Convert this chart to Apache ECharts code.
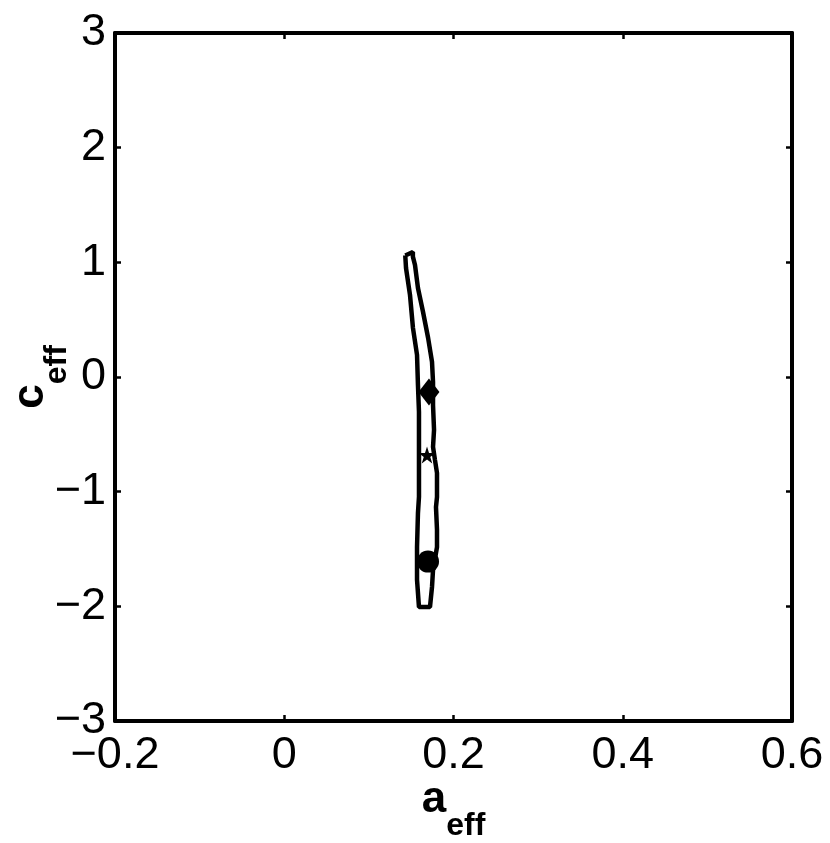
<!DOCTYPE html>
<html>
<head>
<meta charset="utf-8">
<script src="https://cdn.jsdelivr.net/npm/echarts@6/dist/echarts.min.js"></script>
<style>
  html, body { margin: 0; padding: 0; background: #fff; }
  #chart { width: 830px; height: 843px; }
</style>
</head>
<body>
<div id="chart"></div>
<script>
// axis ranges
const xTicks = [-0.2, 0, 0.2, 0.4, 0.6];
const yTicks = [-3, -2, -1, 0, 1, 2, 3];

// confidence contour, traced clockwise from the top-left corner
const contourA = [0.143, 0.152, 0.152, 0.1545, 0.158, 0.164, 0.170, 0.1746, 0.1758, 0.1758, 0.177, 0.1758, 0.1781, 0.1805, 0.1805, 0.1793, 0.1805, 0.1805, 0.1758, 0.1746, 0.1722, 0.1592, 0.1569, 0.1569, 0.158, 0.1592, 0.1592, 0.1592, 0.1592, 0.158, 0.1569, 0.1521, 0.1486, 0.1439, 0.143];
const contourC = [1.06, 1.09, 1.05, 0.977, 0.776, 0.567, 0.34, 0.131, -0.044, -0.244, -0.462, -0.61, -0.724, -0.837, -1.046, -1.134, -1.334, -1.483, -1.683, -1.831, -2.006, -2.006, -1.77, -1.483, -1.186, -1.046, -0.75, -0.532, -0.305, -0.07, 0.192, 0.427, 0.715, 0.95, 1.06];

// point markers
const diamondPt = [0.171, -0.13];
const starPt = [0.1687, -0.68];
const circlePt = [0.1699, -1.61];

const contour = contourA.map((a, i) => [a, contourC[i]]);

const starPath = 'path://M50,0 L61.8,35.5 L100,35.5 L69.1,57.3 L80.9,92.7 L50,70.7 L19.1,92.7 L30.9,57.3 L0,35.5 L38.2,35.5 Z';

const FONT = '"Liberation Sans", Arial, Helvetica, sans-serif';
const fmt = v => String(+v.toFixed(1)).replace('-', '\u2212');

var myChart = echarts.init(document.getElementById('chart'));

const baseAxis = {
  type: 'value',
  axisLine: { show: true, onZero: false, lineStyle: { color: '#000', width: 4 } },
  axisTick: { show: true, inside: true, length: 6, lineStyle: { color: '#000', width: 2.5 } },
  splitLine: { show: false },
};

const nameRich = {
  a: { fontSize: 44, fontWeight: 'bold', fontFamily: FONT, color: '#000', verticalAlign: 'bottom', padding: [0, 0, 20, 0] },
  s: { fontSize: 32, fontWeight: 'bold', fontFamily: FONT, color: '#000', verticalAlign: 'bottom' }
};

myChart.setOption({
  animation: false,
  backgroundColor: '#fff',
  grid: { left: 115, right: 38, top: 33, bottom: 122, containLabel: false, outerBoundsMode: 'none' },
  xAxis: [
    Object.assign({}, baseAxis, {
      position: 'bottom',
      min: xTicks[0], max: xTicks[xTicks.length - 1], interval: 0.2,
      axisLabel: { color: '#000', fontSize: 45, fontFamily: FONT, margin: 12, formatter: fmt, showMinLabel: true, showMaxLabel: true, hideOverlap: false },
      name: '{a|a}{s|eff}',
      nameLocation: 'middle',
      nameGap: 57,
      nameMoveOverlap: false,
      nameTextStyle: { rich: nameRich }
    }),
    Object.assign({}, baseAxis, {
      position: 'top',
      min: xTicks[0], max: xTicks[xTicks.length - 1], interval: 0.2,
      axisLabel: { show: false }
    })
  ],
  yAxis: [
    Object.assign({}, baseAxis, {
      position: 'left',
      min: yTicks[0], max: yTicks[yTicks.length - 1], interval: 1,
      axisLabel: { color: '#000', fontSize: 45, fontFamily: FONT, margin: 9, formatter: fmt, showMinLabel: true, showMaxLabel: true, hideOverlap: false },
      name: '{a|c}{s|eff}',
      nameLocation: 'middle',
      nameGap: 42,
      nameRotate: 90,
      nameMoveOverlap: false,
      nameTextStyle: { rich: nameRich }
    }),
    Object.assign({}, baseAxis, {
      position: 'right',
      min: yTicks[0], max: yTicks[yTicks.length - 1], interval: 1,
      axisLabel: { show: false }
    })
  ],
  series: [
    {
      type: 'line',
      data: contour,
      showSymbol: false,
      smooth: false,
      lineStyle: { color: '#000', width: 4.5 },
      z: 2
    },
    {
      type: 'scatter',
      data: [diamondPt],
      symbol: 'diamond',
      symbolSize: [21, 27],
      itemStyle: { color: '#000', opacity: 1 },
      z: 3
    },
    {
      type: 'scatter',
      data: [starPt],
      symbol: starPath,
      symbolSize: 17,
      itemStyle: { color: '#000', opacity: 1 },
      z: 3
    },
    {
      type: 'scatter',
      data: [circlePt],
      symbol: 'circle',
      symbolSize: 22,
      itemStyle: { color: '#000', opacity: 1 },
      z: 3
    }
  ]
});
</script>
</body>
</html>
